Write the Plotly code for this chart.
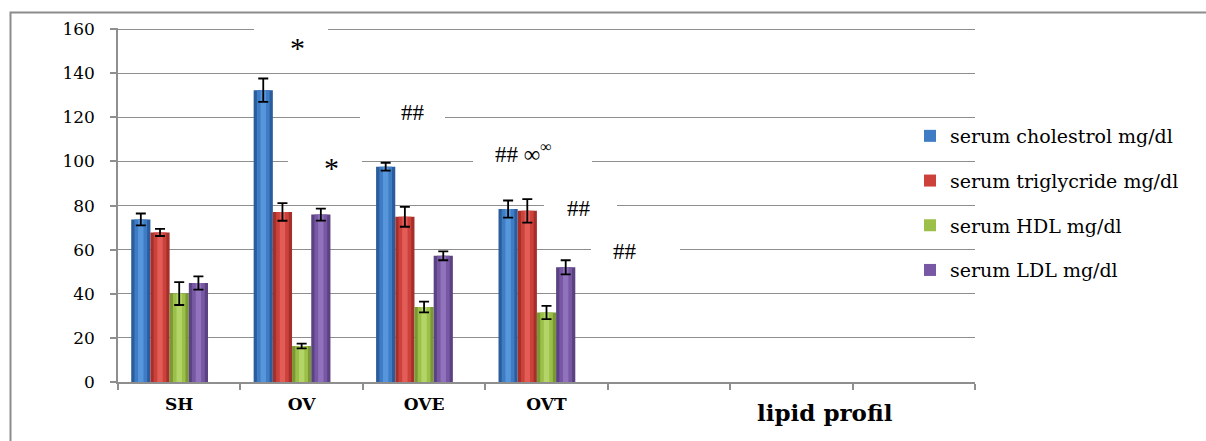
import plotly.graph_objects as go

# ---------------- data ----------------
categories = ["SH", "OV", "OVE", "OVT", "", "", ""]
series_names = ["serum cholestrol mg/dl", "serum triglycride mg/dl",
                "serum HDL mg/dl", "serum LDL mg/dl"]
cholesterol = [73.7, 132.3, 97.6, 78.4]
triglyceride = [67.8, 77.1, 74.9, 77.6]
hdl = [40.1, 16.3, 34.0, 31.5]
ldl = [44.9, 75.9, 57.2, 52.0]
cholesterol_err = [2.7, 5.3, 1.8, 3.9]
triglyceride_err = [1.6, 4.0, 4.5, 5.3]
hdl_err = [5.2, 1.1, 2.4, 3.0]
ldl_err = [3.0, 2.7, 2.0, 3.2]
y_ticks = [0, 20, 40, 60, 80, 100, 120, 140, 160]
x_title_label = "lipid profil"
marks = ["*", "*", "##", "## ∞<sup>∞</sup>", "##", "##"]

values = [cholesterol, triglyceride, hdl, ldl]
errors = [cholesterol_err, triglyceride_err, hdl_err, ldl_err]

# ---------------- styling ----------------
W, H = 1206, 441
L, R, T, B = 118, 975, 28, 382          # plot area in pixels
Y_MAX = 160.5
def px(x):
    return (x - L) / (R - L)
def py(y):
    return (B - y) / (B - T)

dark = ["#2b5d9c", "#a5302b", "#7a9834", "#5b4383"]
mid = ["#3e7cc5", "#cd413b", "#9bbf49", "#7858a4"]
light = ["#5896dc", "#e25d57", "#b3d567", "#9173bd"]

grid_col = "#8e8e8e"
serif = "DejaVu Serif"

n_slots = 5
group_frac = 1 - 0.216
bw = group_frac / n_slots
xs = list(range(len(values[0])))

fig = go.Figure()
layers = [(1.0, dark, False), (0.66, mid, False), (0.28, light, True)]
for li, (frac, cols, top) in enumerate(layers):
    for i in range(4):
        left = -group_frac / 2 + i * bw
        w = bw * frac
        off = left + (bw - w) / 2
        fig.add_trace(go.Bar(
            x=xs, y=values[i], width=w, offset=off,
            marker=dict(color=cols[i], line=dict(width=0)),
            name=series_names[i],
            showlegend=(li == 1),
            legendgroup=series_names[i],
            legendrank=i,
            error_y=dict(type="data", array=errors[i], color="black",
                         thickness=1.8, width=5, visible=top),
            hoverinfo="skip",
        ))

# gaps in the gridlines behind the significance marks
gaps = [(254, 328, 160), (288, 362, 100), (360, 445, 120),
        (473, 592, 100), (544, 617, 80), (591, 680, 60)]
shapes = []
for x0, x1, gv in gaps:
    shapes.append(dict(type="rect", xref="paper", yref="y", layer="above",
                       x0=px(x0), x1=px(x1), y0=gv - 1.6, y1=gv + 1.6,
                       fillcolor="white", line=dict(width=0)))
# outer frame
shapes.append(dict(type="rect", xref="paper", yref="paper",
                   x0=px(10.5), x1=px(1240), y0=py(470), y1=py(12.5),
                   line=dict(color="#8c8c8c", width=2), fillcolor="rgba(0,0,0,0)",
                   layer="below"))

mark_pos = [(297, 45), (331, 165), (413, 112), (523, 151), (579, 207), (625, 250)]
annotations = []
for (mx, my), txt in zip(mark_pos, marks):
    if txt == "*":
        f = dict(family="Liberation Serif", size=30, color="black")
        myy = my + 2
    else:
        f = dict(family="Liberation Serif", size=23, color="black")
        myy = my + 1
    annotations.append(dict(x=px(mx), y=py(myy), xref="paper", yref="paper",
                            text=txt, showarrow=False, font=f,
                            xanchor="center", yanchor="middle"))
annotations.append(dict(x=px(825), y=py(412), xref="paper", yref="paper",
                        text="<b>" + x_title_label + "</b>", showarrow=False,
                        font=dict(family=serif, size=23, color="black"),
                        xanchor="center", yanchor="middle"))

label_idx = [k for k, c in enumerate(categories) if c]

fig.update_layout(
    width=W, height=H,
    margin=dict(l=L, r=W - R, t=T, b=H - B, pad=0),
    paper_bgcolor="white", plot_bgcolor="white",
    barmode="overlay",
    showlegend=True,
    legend=dict(x=px(910), y=py(117), xanchor="left", yanchor="top",
                bgcolor="rgba(0,0,0,0)", tracegroupgap=17,
                font=dict(family=serif, size=19, color="black"),
                itemclick=False, itemdoubleclick=False),
    shapes=shapes,
    annotations=annotations,
    xaxis=dict(
        range=[-0.5, len(categories) - 0.5],
        tickmode="array", tickvals=label_idx,
        ticktext=["<b>" + categories[k] + "</b>" for k in label_idx],
        ticks="", showgrid=False, zeroline=False,
        showline=True, linecolor=grid_col, linewidth=1.5,
        tickfont=dict(family=serif, size=17, color="black"),
        ticklabelstandoff=6,
        minor=dict(tickmode="array",
                   tickvals=[k - 0.5 for k in range(len(categories) + 1)],
                   ticks="outside", ticklen=6, tickcolor=grid_col, tickwidth=1.5,
                   showgrid=False),
    ),
    yaxis=dict(
        range=[0, Y_MAX], tickmode="array", tickvals=y_ticks,
        showgrid=True, gridcolor=grid_col, gridwidth=1.3,
        zeroline=False, showline=True, linecolor=grid_col, linewidth=1.5,
        ticks="outside", ticklen=6, tickcolor=grid_col, tickwidth=1.5,
        tickfont=dict(family=serif, size=17, color="black"),
        ticklabelstandoff=12,
    ),
)

fig.write_html("out.html")
